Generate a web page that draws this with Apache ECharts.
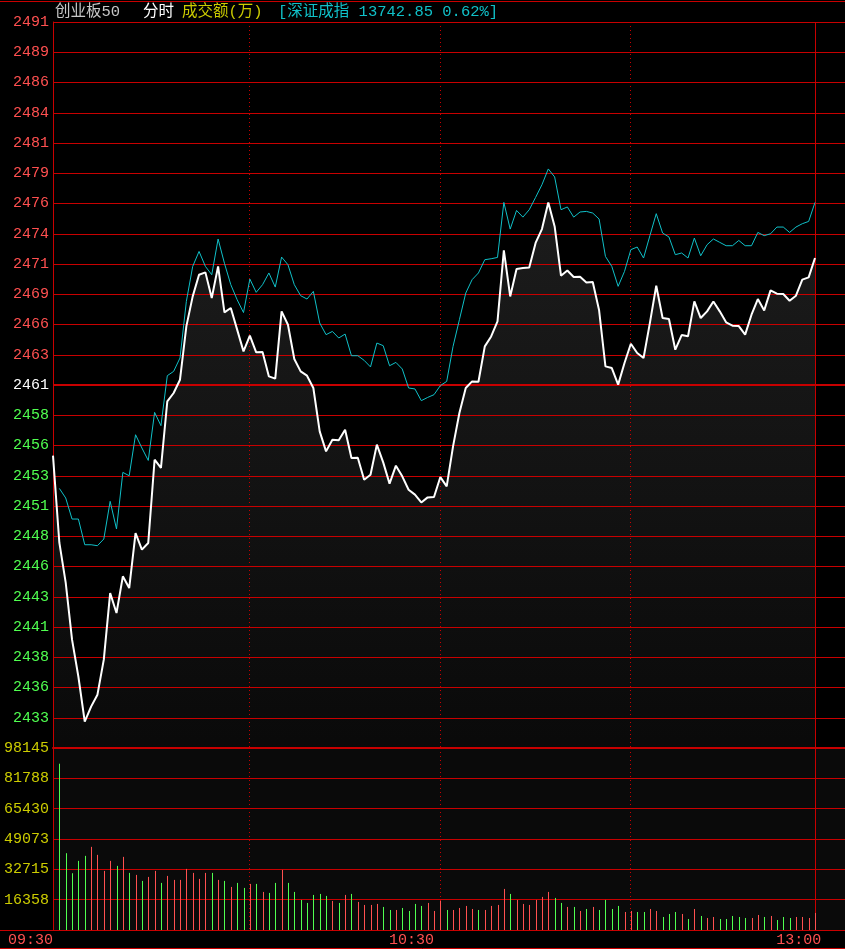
<!DOCTYPE html>
<html><head><meta charset="utf-8">
<script src="https://cdn.jsdelivr.net/npm/echarts@6/dist/echarts.min.js"></script>
<style>html,body{margin:0;padding:0;background:#000;overflow:hidden}#c{width:845px;height:949px}</style>
</head><body><div id="c"></div>
<script>
// ---- data ----
const priceTickLabels = ['', '2433','2436','2438','2441','2443','2446','2448','2451','2453','2456','2458','2461',
  '2463','2466','2469','2471','2474','2476','2479','2481','2484','2486','2489','2491'];
const volTickLabels = ['', '16358','32715','49073','65430','81788','98145'];
const timeLabels = ['09:30','10:30','13:00'];
const timeLabelIdx = [0, 60, 121];
const sessionMarks = [31, 61, 91];
const lastMark = 120;
const preClose = 2460.95;
const priceStep = 2.53;
const volMax = 98145;
const titleParts = ['创业板50', '分时', '成交额(万)', '[深证成指 13742.85 0.62%]'];

// 创业板50 minute prices, minute 0..120
const price = [
2455.04,2447.76,2444.42,2439.65,2436.55,2432.79,2434.05,2435.05,2437.98,2443.55,
2441.88,2444.95,2443.97,2448.57,2447.18,2447.74,2454.70,2454.01,2459.58,2460.28,
2461.39,2465.85,2468.36,2470.17,2470.37,2468.23,2470.87,2467.02,2467.39,2465.58,
2463.76,2465.08,2463.68,2463.70,2461.67,2461.48,2467.11,2465.99,2463.12,2462.09,
2461.73,2460.70,2457.07,2455.40,2456.37,2456.33,2457.21,2454.84,2454.86,2453.03,
2453.45,2455.96,2454.48,2452.70,2454.20,2453.31,2452.19,2451.78,2451.13,2451.55,
2451.58,2453.25,2452.47,2455.82,2458.61,2460.70,2461.25,2461.22,2464.18,2465.01,
2466.27,2472.21,2468.36,2470.65,2470.74,2470.77,2472.83,2473.99,2476.22,2474.21,
2470.09,2470.53,2469.98,2470.00,2469.53,2469.56,2467.20,2462.51,2462.37,2460.98,
2462.79,2464.40,2463.63,2463.21,2466.14,2469.25,2466.55,2466.47,2463.90,2465.13,
2465.02,2467.94,2466.55,2467.11,2467.94,2467.11,2466.19,2465.91,2465.88,2465.16,
2466.83,2468.14,2467.19,2468.86,2468.59,2468.56,2468.00,2468.42,2469.76,2469.95,
2471.57];

// 深证成指 overlay (on the same scale), minute 0..120
const szIndex = [
null,2452.30,2451.50,2449.74,2449.74,2447.59,2447.59,2447.51,2448.07,2451.22,
2448.91,2453.64,2453.36,2456.79,2455.68,2454.64,2458.66,2457.55,2461.73,2462.09,
2463.21,2467.94,2470.87,2472.12,2470.87,2470.17,2473.16,2471.13,2469.34,2468.08,
2467.01,2469.81,2468.70,2469.34,2470.32,2469.14,2471.65,2471.01,2469.34,2468.42,
2468.14,2468.78,2466.14,2465.16,2465.43,2464.88,2465.21,2463.40,2463.40,2463.01,
2462.46,2464.46,2464.24,2462.56,2462.84,2462.29,2460.70,2460.62,2459.64,2459.91,
2460.14,2460.90,2461.25,2464.18,2466.41,2468.64,2469.76,2470.32,2471.43,2471.51,
2471.62,2476.22,2473.99,2475.55,2474.99,2475.61,2476.64,2477.70,2479.02,2478.35,
2475.61,2475.84,2474.99,2475.42,2475.47,2475.33,2474.83,2471.70,2470.87,2469.20,
2470.45,2472.27,2472.49,2471.57,2473.44,2475.28,2473.66,2473.33,2471.85,2471.99,
2471.57,2473.24,2471.76,2472.68,2473.16,2472.88,2472.60,2472.60,2473.04,2472.60,
2472.60,2473.71,2473.44,2473.60,2474.16,2474.16,2473.71,2474.16,2474.44,2474.63,
2476.22];

// turnover per minute (万), minutes 1..120
const volume = [
89675,41420,30610,37275,39975,44840,40515,31870,37275,34575,
39435,30790,29710,26470,28630,31870,25390,29170,27010,27010,
32950,30790,27550,30790,30790,27010,26470,23230,25390,22690,
24850,24850,20530,19990,25390,32410,25390,20530,16210,14590,
18910,19450,18370,15670,14590,18910,19450,15130,13510,13510,
14050,12430,10800,10800,11880,10260,14050,12970,14590,10260,
15670,10800,10800,11880,12970,11340,10800,10800,12970,13510,
22150,19450,16210,14050,13510,16210,17830,20530,17290,14590,
12430,12430,10260,11340,12430,10800,16210,11340,12970,9720,
10260,9720,9720,11340,10260,7020,8640,9720,8640,5940,
11340,7560,6480,7020,5940,5940,7560,7020,6480,6480,
8100,7020,7560,5400,7020,6480,7020,7020,6480,9180];
// r = up minute (red), g = down minute (green)
const volDir = ('gggggrrrrg'+'rgrgrrgrrr'+'rrrrgrgrgg'+'rgrggrgggg'+'gggrgrgrrr'+'rggrggggrr'+
  'rgrrrrgrrr'+'rgrrrrrrgg'+'rgrgrggggr'+'rggrrgggrg'+'rgrrgggggr'+'rgrgggrrrr').split('');

// ---- style ----
const RED = '#ff5050', GREEN = '#50ff50', GRID = '#c80000', YEL = '#cccc00', CYAN = '#10c0c8';
const FONT = '"Liberation Mono", "Noto Sans CJK SC", monospace';
const LEFT = 53, TOP = 22, PH = 726, VH = 182, W = 792, MIN_PX = 6.35;
const xMax = W / MIN_PX;

const chart = echarts.init(document.getElementById('c'), null, {renderer: 'canvas'});

// crisp 1px vertical stick drawn through the axis scales
function stickItem(params, api) {
  const x = api.value(0), v = api.value(1);
  const p0 = api.coord([x, 0]), p1 = api.coord([x, v]);
  const cx = Math.round(p0[0]) + 0.5;
  return {type: 'line', shape: {x1: cx, y1: p0[1], x2: cx, y2: p1[1]},
    style: {stroke: api.value(2) ? RED : GREEN, lineWidth: 1}};
}
// vertical time markers spanning the whole panel
function markItem(params, api) {
  const x = api.value(0), dotted = api.value(1);
  const cs = params.coordSys;
  const px = Math.floor(api.coord([x, api.value(2)])[0]) + 0.5;
  return {type: 'line', shape: {x1: px, y1: cs.y, x2: px, y2: cs.y + cs.height},
    style: {stroke: GRID, lineWidth: 1, lineDash: dotted ? [1, 3] : null}};
}
const markData = (yv) => [...sessionMarks.map(x => [x, 1, yv]), [lastMark, 0, yv]];

const option = {
  animation: false,
  backgroundColor: '#000',
  grid: [
    {left: LEFT, top: TOP, width: W, height: PH, show: false},
    {left: LEFT, top: TOP + PH, width: W, height: VH, show: true, backgroundColor: '#0a0a0a', borderWidth: 0}
  ],
  xAxis: [
    {gridIndex: 0, type: 'value', min: 0, max: xMax, z: 2,
     axisLine: {show: true, onZero: false, lineStyle: {color: GRID, width: 2}},
     axisTick: {show: false}, axisLabel: {show: false}, splitLine: {show: false}},
    {gridIndex: 1, type: 'value', min: 0, max: xMax, z: 2,
     axisLine: {show: true, onZero: false, lineStyle: {color: GRID, width: 1}},
     axisTick: {show: false}, splitLine: {show: false},
     axisLabel: {show: true, customValues: timeLabelIdx, align: 'right', margin: 3,
       color: RED, fontFamily: FONT, fontSize: 15,
       formatter: v => timeLabels[timeLabelIdx.indexOf(Math.round(v))] || ''}}
  ],
  yAxis: [
    {gridIndex: 0, type: 'value', min: preClose - 12 * priceStep, max: preClose + 12 * priceStep,
     show: false, splitLine: {show: false}},
    {gridIndex: 0, type: 'value', min: 0, max: 24, interval: 1, position: 'left', z: 2,
     axisLine: {show: true, lineStyle: {color: GRID}}, axisTick: {show: false},
     splitLine: {show: true, lineStyle: {color: GRID, width: 1}},
     axisLabel: {margin: 4, fontFamily: FONT, fontSize: 15, padding: [5, 0, 0, 0],
       formatter: v => priceTickLabels[Math.round(v)] || '',
       color: v => { const k = Math.round(v); return k > 12 ? RED : (k === 12 ? '#ffffff' : GREEN); }}},
    {gridIndex: 1, type: 'value', min: 0, max: volMax, interval: volMax / 6, position: 'left', z: 2,
     axisLine: {show: true, lineStyle: {color: GRID}}, axisTick: {show: false},
     splitLine: {show: true, lineStyle: {color: GRID, width: 1}},
     axisLabel: {margin: 4, fontFamily: FONT, fontSize: 15, color: YEL, padding: [5, 0, 0, 0],
       formatter: v => volTickLabels[Math.round(v / (volMax / 6))] || ''}}
  ],
  series: [
    {name: 'area', type: 'line', xAxisIndex: 0, yAxisIndex: 0, z: 1,
     data: price.map((v, i) => [i, v]), showSymbol: false, silent: true,
     lineStyle: {width: 0, opacity: 0},
     areaStyle: {color: new echarts.graphic.LinearGradient(0, 0, 0, 1, [
       {offset: 0, color: '#282828'}, {offset: 1, color: '#0e0e0e'}])},
     markLine: {silent: true, symbol: ['none', 'none'], label: {show: false}, z: 2, animation: false,
       data: [{yAxis: preClose, lineStyle: {color: GRID, type: 'solid', width: 2}}]}},
    {name: 'marks0', type: 'custom', xAxisIndex: 0, yAxisIndex: 0, z: 2, silent: true,
     renderItem: markItem, data: markData(preClose), clip: false},
    {name: '深证成指', type: 'line', xAxisIndex: 0, yAxisIndex: 0, z: 3,
     data: szIndex.map((v, i) => [i, v]), showSymbol: false, connectNulls: false,
     lineStyle: {color: CYAN, width: 1}},
    {name: '创业板50', type: 'line', xAxisIndex: 0, yAxisIndex: 0, z: 4,
     data: price.map((v, i) => [i, v]), showSymbol: false,
     lineStyle: {color: '#ffffff', width: 2}},
    {name: 'marks1', type: 'custom', xAxisIndex: 1, yAxisIndex: 2, z: 2, silent: true,
     renderItem: markItem, data: markData(0), clip: false},
    {name: '成交额', type: 'custom', xAxisIndex: 1, yAxisIndex: 2, z: 3, silent: true,
     renderItem: stickItem,
     data: volume.map((v, k) => [k + 1, v, volDir[k] === 'r' ? 1 : 0])}
  ],
  graphic: [
    {type: 'line', shape: {x1: 0, y1: 1.5, x2: 845, y2: 1.5}, style: {stroke: GRID, lineWidth: 1}, silent: true},
    {type: 'line', shape: {x1: 0, y1: 930.5, x2: LEFT, y2: 930.5}, style: {stroke: GRID, lineWidth: 1}, silent: true},
    {type: 'line', shape: {x1: 0, y1: 948.5, x2: 845, y2: 948.5}, style: {stroke: GRID, lineWidth: 1}, silent: true},
    {type: 'text', left: 55, top: 4, style: {text: titleParts[0], fill: '#c8c8c8', font: '15.5px ' + FONT}},
    {type: 'text', left: 143, top: 4, style: {text: titleParts[1], fill: '#ffffff', font: '15.5px ' + FONT}},
    {type: 'text', left: 182, top: 4, style: {text: titleParts[2], fill: YEL, font: '15.5px ' + FONT}},
    {type: 'text', left: 278, top: 4, style: {text: titleParts[3], fill: CYAN, font: '15.5px ' + FONT}}
  ]
};
chart.setOption(option);
</script>
</body></html>
